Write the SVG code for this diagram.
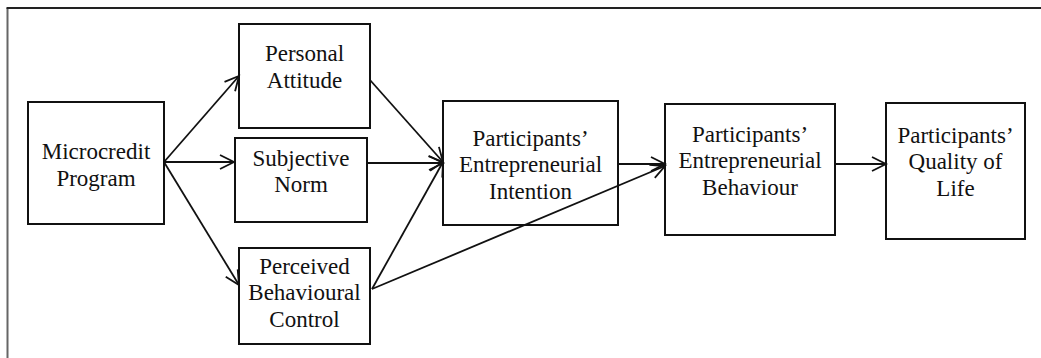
<svg xmlns="http://www.w3.org/2000/svg" width="1041" height="358" viewBox="0 0 1041 358">
<style>
.box{fill:#fff;stroke:#111;stroke-width:2}
.edge{fill:none;stroke:#111;stroke-width:1.8}
</style>
<defs>
<marker id="arr" markerUnits="userSpaceOnUse" markerWidth="20" markerHeight="20" viewBox="0 0 20 20" refX="15" refY="10" orient="auto">
<path d="M1,3 L15,10 L1,17" fill="none" stroke="#111" stroke-width="1.8"/>
</marker>
</defs>
<rect width="1041" height="358" fill="#fff"/>
<g id="frame">
<line x1="7.5" y1="8" x2="7.5" y2="358" stroke="#666" stroke-width="2"/>
<line x1="6.5" y1="8" x2="1041" y2="8" stroke="#222" stroke-width="1.8"/>
</g>
<g font-family="Liberation Serif, serif" font-size="23" fill="#111" text-anchor="middle">
<g id="n-microcredit">
<rect class="box" x="28" y="102" width="136" height="122"/>
<text x="96" y="159">Microcredit</text>
<text x="96" y="186">Program</text>
</g>
<g id="n-attitude">
<rect class="box" x="239" y="24" width="131" height="104"/>
<text x="304.5" y="61">Personal</text>
<text x="304.5" y="88">Attitude</text>
</g>
<g id="n-norm">
<rect class="box" x="235" y="138" width="132" height="84"/>
<text x="301" y="166">Subjective</text>
<text x="301" y="192">Norm</text>
</g>
<g id="n-pbc">
<rect class="box" x="239" y="248" width="131" height="96"/>
<text x="304.5" y="274">Perceived</text>
<text x="304.5" y="300">Behavioural</text>
<text x="304.5" y="327">Control</text>
</g>
<g id="n-intention">
<rect class="box" x="443" y="101" width="175" height="124"/>
<text x="530.5" y="146">Participants’</text>
<text x="530.5" y="172">Entrepreneurial</text>
<text x="530.5" y="199">Intention</text>
</g>
<g id="n-behaviour">
<rect class="box" x="665" y="104" width="170" height="131"/>
<text x="750" y="142">Participants’</text>
<text x="750" y="168">Entrepreneurial</text>
<text x="750" y="195">Behaviour</text>
</g>
<g id="n-quality">
<rect class="box" x="886" y="103" width="139" height="136"/>
<text x="955.5" y="143">Participants’</text>
<text x="955.5" y="169">Quality of</text>
<text x="955.5" y="196">Life</text>
</g>
</g>
<g id="connectors">
<path class="edge" d="M164,162 L239,76" marker-end="url(#arr)"/>
<path class="edge" d="M164,162 L234,162" marker-end="url(#arr)"/>
<path class="edge" d="M164,162 L239,285" marker-end="url(#arr)"/>
<path class="edge" d="M370,80 L443,162" marker-end="url(#arr)"/>
<path class="edge" d="M367,163 L443,163" marker-end="url(#arr)"/>
<path class="edge" d="M372,289 L443,162" marker-end="url(#arr)"/>
<path class="edge" d="M372,289 L665,166" marker-end="url(#arr)"/>
<path class="edge" d="M618,164 L665,164" marker-end="url(#arr)"/>
<path class="edge" d="M835,164 L886,164" marker-end="url(#arr)"/>
</g>
</svg>
